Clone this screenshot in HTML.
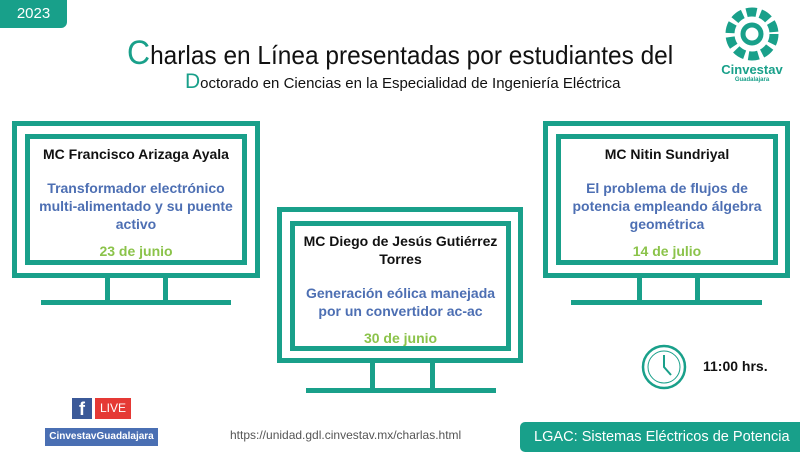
<!DOCTYPE html>
<html><head><meta charset="utf-8"><style>
body{margin:0;width:800px;height:450px;background:#fff;position:relative;overflow:hidden;font-family:"Liberation Sans",sans-serif}
.a{position:absolute}
.o{position:absolute;border:5px solid #19a08a;box-sizing:border-box}
.i{position:absolute;border:5px solid #19a08a;box-sizing:border-box;text-align:center;font-weight:bold;font-size:14px;line-height:18px}
.t{position:absolute;background:#19a08a}
.n{color:#111}
.b{color:#4d6fb3}
.g{color:#8bc34a}
</style></head><body>
<div class="a" style="left:0;top:0;width:67px;height:28px;background:#18a08a;border-radius:0 0 6px 0;color:#fff;font-size:15px;line-height:28px;text-align:center">2023</div>
<div class="a" style="left:127px;top:34px;font-size:26px;color:#111;white-space:nowrap;transform:scaleX(.94);transform-origin:left"><span style="color:#19a08a;font-size:34px">C</span>harlas en Línea presentadas por estudiantes del</div>
<div class="a" style="left:185px;top:70px;font-size:15px;color:#111;white-space:nowrap"><span style="color:#19a08a;font-size:21px">D</span>octorado en Ciencias en la Especialidad de Ingeniería Eléctrica</div>
<svg class="a" style="left:722px;top:6px" width="60" height="58" viewBox="0 0 60 58"><circle cx="30" cy="28" r="22" fill="none" stroke="#19a08a" stroke-width="9" stroke-dasharray="10 4"/><circle cx="30" cy="28" r="9" fill="none" stroke="#19a08a" stroke-width="5"/></svg>
<div class="a" style="left:712px;top:62px;width:80px;text-align:center;color:#19a08a;font-weight:bold;font-size:13px">Cinvestav</div>
<div class="a" style="left:712px;top:77px;width:80px;text-align:center;color:#19a08a;font-weight:bold;font-size:6px">Guadalajara</div>

<div class="o" style="left:12px;top:121px;width:248px;height:157px"></div>
<div class="i" style="left:25px;top:134px;width:222px;height:131px;padding-top:6px"><div class="n">MC Francisco Arizaga Ayala</div><div class="b" style="margin-top:16px">Transformador electrónico<br>multi-alimentado y su puente<br>activo</div><div class="g" style="margin-top:9px">23 de junio</div></div>
<div class="t" style="left:105px;top:277px;width:5px;height:24px"></div><div class="t" style="left:163px;top:277px;width:5px;height:24px"></div><div class="t" style="left:41px;top:300px;width:190px;height:5px"></div>

<div class="o" style="left:277px;top:207px;width:246px;height:156px"></div>
<div class="i" style="left:290px;top:221px;width:221px;height:130px;padding-top:6px"><div class="n">MC Diego de Jesús Gutiérrez<br>Torres</div><div class="b" style="margin-top:16px">Generación eólica manejada<br>por un convertidor ac-ac</div><div class="g" style="margin-top:9px">30 de junio</div></div>
<div class="t" style="left:370px;top:362px;width:5px;height:27px"></div><div class="t" style="left:430px;top:362px;width:5px;height:27px"></div><div class="t" style="left:306px;top:388px;width:190px;height:5px"></div>

<div class="o" style="left:543px;top:121px;width:247px;height:157px"></div>
<div class="i" style="left:556px;top:134px;width:222px;height:131px;padding-top:6px"><div class="n">MC Nitin Sundriyal</div><div class="b" style="margin-top:16px">El problema de flujos de<br>potencia empleando álgebra<br>geométrica</div><div class="g" style="margin-top:9px">14 de julio</div></div>
<div class="t" style="left:637px;top:277px;width:5px;height:24px"></div><div class="t" style="left:695px;top:277px;width:5px;height:24px"></div><div class="t" style="left:571px;top:300px;width:191px;height:5px"></div>

<svg class="a" style="left:640px;top:343px" width="48" height="48" viewBox="0 0 48 48"><circle cx="24" cy="24" r="21" fill="none" stroke="#19a08a" stroke-width="2.5"/><circle cx="24" cy="24" r="16" fill="none" stroke="#19a08a" stroke-width="1"/><path d="M24 12V24L31 32" fill="none" stroke="#19a08a" stroke-width="2"/></svg>
<div class="a" style="left:703px;top:358px;font-size:14px;font-weight:bold;color:#111">11:00 hrs.</div>

<div class="a" style="left:72px;top:398px;width:20px;height:21px;background:#3b5998;color:#fff;font-weight:bold;font-size:18px;text-align:center;line-height:23px">f</div>
<div class="a" style="left:95px;top:398px;width:36px;height:21px;background:#e53935;color:#fff;font-size:12px;text-align:center;line-height:21px">LIVE</div>
<div class="a" style="left:45px;top:428px;width:113px;height:18px;background:#4a6fb3;color:#fff;font-size:10px;font-weight:bold;text-align:center;line-height:18px">CinvestavGuadalajara</div>
<div class="a" style="left:230px;top:428px;font-size:12px;color:#555">https://unidad.gdl.cinvestav.mx/charlas.html</div>
<div class="a" style="left:520px;top:422px;width:285px;height:30px;background:#18a08a;border-radius:5px"></div>
<div class="a" style="left:534px;top:422px;height:30px;color:#fff;font-size:15px;line-height:30px;white-space:nowrap;transform:scaleX(.97);transform-origin:left">LGAC: Sistemas Eléctricos de Potencia</div>
</body></html>
